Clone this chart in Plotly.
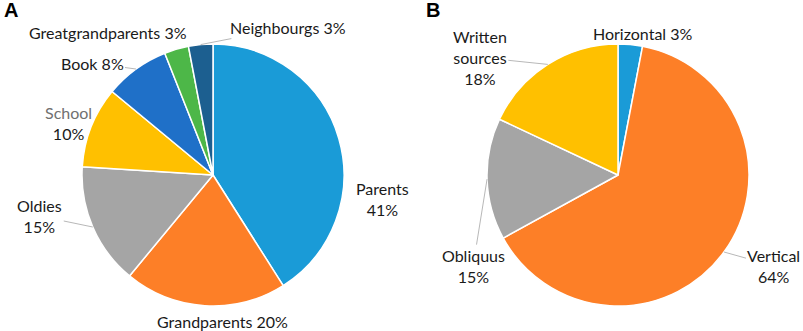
import math
import plotly.graph_objects as go

# Panel A data
a_labels = ["Parents", "Grandparents", "Oldies", "School", "Book", "Greatgrandparents", "Neighbourgs"]
a_values = [41, 20, 15, 10, 8, 3, 3]
# Panel B data
b_labels = ["Horizontal", "Vertical", "Obliquus", "Written<br>sources"]
b_values = [3, 64, 15, 18]

# styles
a_colors = ["#1a9bd7", "#fd7f27", "#a5a5a5", "#ffc000", "#1f70c8", "#4db748", "#1c5f90"]
b_colors = ["#1a9bd7", "#fd7f27", "#a5a5a5", "#ffc000"]
a_sep = ["<br>", " ", "<br>", "<br>", " ", " ", " "]
b_sep = [" ", "<br>", "<br>", "<br>"]
a_namecol = ["#1a1a1a", "#1a1a1a", "#1a1a1a", "#707070", "#1a1a1a", "#1a1a1a", "#1a1a1a"]
b_namecol = ["#1a1a1a"] * 4
# label offsets (px) from slice-edge midpoint, and whether a leader line is drawn
a_off = [(44, 61), (18, 16), (-53, -11), (-23, -4), (-44, -6), (-68, -17), (87, -17)]
a_line = [False, False, True, True, True, False, True]
b_off = [(13, -11), (50, 14), (-14, 87), (-68, -7)]
b_line = [False, True, True, True]

W, H = 803, 331
R = 131
A_C = (213, 175)   # pie centres in figure pixels
B_C = (618, 175)
fnt_family = "Lato, Open Sans, sans-serif"


def dom(c):
    return dict(x=[(c[0] - R) / W, (c[0] + R) / W],
                y=[1 - (c[1] + R) / H, 1 - (c[1] - R) / H])


fig = go.Figure()
for labels, values, colors, c in [(a_labels, a_values, a_colors, A_C),
                                  (b_labels, b_values, b_colors, B_C)]:
    fig.add_trace(go.Pie(
        labels=labels, values=values, textinfo="none",
        sort=False, direction="clockwise", rotation=0,
        marker=dict(colors=colors, line=dict(color="white", width=1.5)),
        domain=dom(c), showlegend=False, hoverinfo="label+percent",
    ))


def add_labels(labels, values, seps, cols, offs, lines, c):
    tot = sum(values)
    cum = 0
    for l, v, s, col, off, ln in zip(labels, values, seps, cols, offs, lines):
        mid = (cum + v / 2) / tot
        cum += v
        th = 2 * math.pi * mid
        px = c[0] + R * math.sin(th)
        py = c[1] - R * math.cos(th)
        fig.add_annotation(
            x=px / W, y=1 - py / H, xref="paper", yref="paper",
            text=f"<span style='color:{col}'>{l}</span>{s}{v}%", showarrow=True, arrowhead=0,
            arrowwidth=1, arrowcolor="#b8b8b8" if ln else "rgba(0,0,0,0)",
            ax=off[0], ay=off[1], standoff=0, startstandoff=0,
            font=dict(family=fnt_family, size=16, color="#1a1a1a"), align="center",
        )


add_labels(a_labels, a_values, a_sep, a_namecol, a_off, a_line, A_C)
add_labels(b_labels, b_values, b_sep, b_namecol, b_off, b_line, B_C)

for t, x in [("A", 2), ("B", 424)]:
    fig.add_annotation(text=f"<b>{t}</b>", x=x / W, y=1.0, xref="paper", yref="paper",
                       xanchor="left", yanchor="top", showarrow=False, yshift=3,
                       font=dict(family="Liberation Sans, Arial, sans-serif", size=20, color="#000"))

fig.update_layout(width=W, height=H, margin=dict(l=0, r=0, t=0, b=0),
                  paper_bgcolor="white", plot_bgcolor="white")
fig.write_html("out.html", config={"displayModeBar": False},
               post_script="document.body.style.margin='0px';document.body.style.overflow='hidden';")
